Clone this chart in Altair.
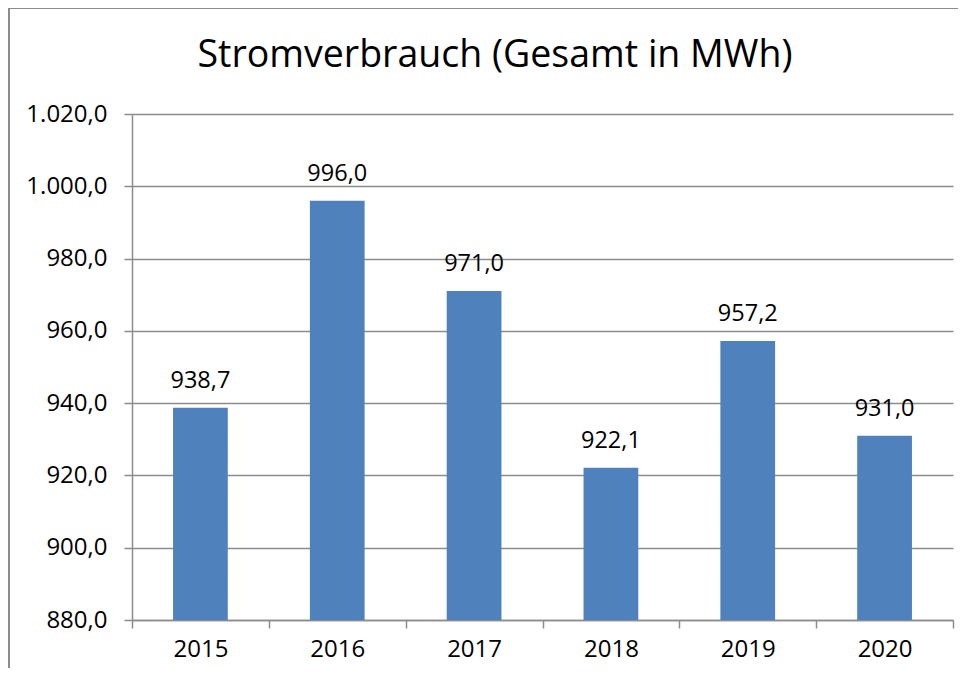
import altair as alt
import pandas as pd

years = ["2015", "2016", "2017", "2018", "2019", "2020"]
values = [938.7, 996.0, 971.0, 922.1, 957.2, 931.0]
y_ticks = [880, 900, 920, 940, 960, 980, 1000, 1020]
title_text = "Stromverbrauch (Gesamt in MWh)"

def de(v):
    s = f"{v:,.1f}"
    return s.replace(",", "_").replace(".", ",").replace("_", ".")

df = pd.DataFrame({"Jahr": years, "Wert": values, "Label": [de(v) for v in values]})

FONT = "Open Sans"
GRAY = "#8c8c8c"

x_enc = alt.X("Jahr:N", sort=years, title=None,
              scale=alt.Scale(paddingInner=0, paddingOuter=0),
              axis=alt.Axis(labelAngle=0, tickBand="extent", ticks=True, tickSize=8,
                            domainColor=GRAY, tickColor=GRAY, domainWidth=1.5, tickWidth=1.5,
                            labelFont=FONT, labelFontSize=24, labelColor="black",
                            labelPadding=9, grid=False))
y_enc = alt.Y("Wert:Q", title=None,
              scale=alt.Scale(domain=[880, 1020], nice=False, zero=False),
              axis=alt.Axis(values=y_ticks, tickSize=8, grid=True, gridColor=GRAY, gridWidth=1.5,
                            domainColor=GRAY, tickColor=GRAY, domainWidth=1.5, tickWidth=1.5,
                            labelFont=FONT, labelFontSize=24, labelColor="black", labelPadding=17,
                            labelExpr="replace(replace(replace(format(datum.value, ',.1f'), ',', '_'), '.', ','), '_', '.')"))

base = alt.Chart(df)
bars = base.mark_bar(color="#4F81BD", width=alt.RelativeBandSize(0.4)).encode(
    x=x_enc, y=y_enc, y2=alt.datum(880)
)
labels = base.mark_text(font=FONT, fontSize=23.5, color="black", dy=-20, baseline="alphabetic").encode(
    x=alt.X("Jahr:N", sort=years), y=alt.Y("Wert:Q"), text="Label:N"
)
border = alt.Chart(pd.DataFrame({"a": [0]})).mark_rect(
    fill=None, stroke=GRAY, strokeWidth=2
).encode(x=alt.value(-123), x2=alt.value(1000), y=alt.value(-106), y2=alt.value(800))

title = alt.Chart(pd.DataFrame({"t": [title_text]})).mark_text(
    font=FONT, fontSize=37.5, color="black", align="center", baseline="alphabetic"
).encode(x=alt.value(363), y=alt.value(-47), text="t:N")

chart = alt.layer(border, bars, labels, title).properties(
    width=821, height=506,
    autosize=alt.AutoSizeParams(type="none"),
    padding={"left": 124, "top": 106, "right": 5, "bottom": 48},
).configure_view(stroke=None)

chart.save("out.html", embed_options={"renderer": "svg", "actions": False})
